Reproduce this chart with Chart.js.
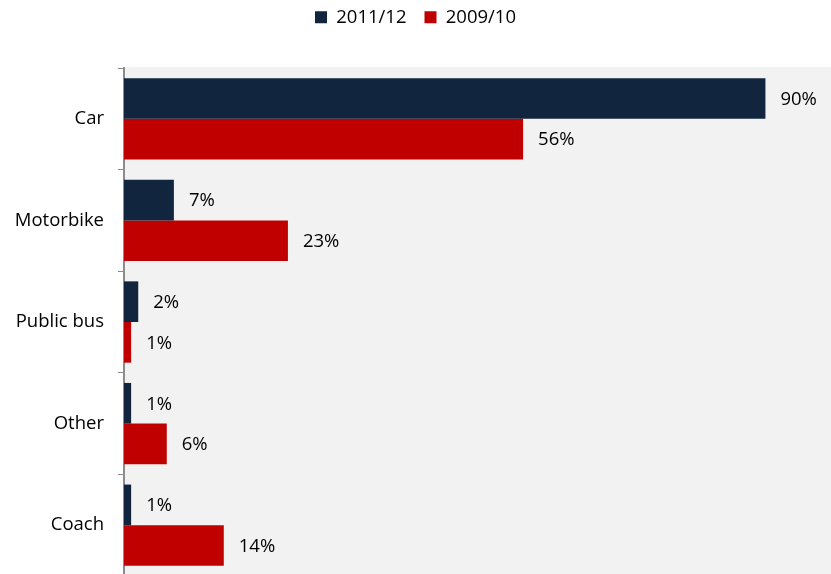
<!DOCTYPE html>
<html lang="en">
<head>
    <meta charset="UTF-8">
    <title>Mode of transport</title>
    <script src="https://cdn.jsdelivr.net/npm/chart.js"></script>
    <style>
        body {
            margin: 0;
            padding: 0;
            background: #fff;
            overflow: hidden;
        }
        #wrap {
            width: 831px;
            height: 576px;
        }
    </style>
</head>
<body>
    <div id="wrap"><canvas id="transportChart"></canvas></div>

    <script>
        const categories = ['Car', 'Motorbike', 'Public bus', 'Other', 'Coach'];
        const seriesNames = ['2011/12', '2009/10'];
        const values2011 = [90, 7, 2, 1, 1];
        const values2009 = [56, 23, 1, 6, 14];

        const fontFamily = '"Open Sans", "Noto Sans", sans-serif';
        const fontSize = 18.5;
        const plotTop = 68;

        // grey plot background behind the bars
        const plotBackground = {
            id: 'plotBackground',
            beforeDraw(chart) {
                const { ctx, chartArea } = chart;
                ctx.save();
                ctx.fillStyle = '#f2f2f2';
                ctx.fillRect(chartArea.left, chartArea.top - 1, chartArea.right - chartArea.left, chartArea.bottom - chartArea.top + 1);
                ctx.restore();
            }
        };

        // leave a fixed gap between the legend and the plot
        const legendGap = {
            id: 'legendGap',
            beforeInit(chart) {
                const fit = chart.legend.fit;
                chart.legend.fit = function () {
                    fit.call(this);
                    this.height = plotTop - chart.options.layout.padding.top;
                };
            }
        };

        // percentage labels to the right of each bar
        const valueLabels = {
            id: 'valueLabels',
            afterDatasetsDraw(chart) {
                const ctx = chart.ctx;
                ctx.save();
                ctx.font = fontSize + 'px ' + fontFamily;
                ctx.fillStyle = '#000';
                ctx.textBaseline = 'middle';
                ctx.textAlign = 'left';
                chart.data.datasets.forEach((ds, i) => {
                    chart.getDatasetMeta(i).data.forEach((bar, j) => {
                        ctx.fillText(ds.data[j] + '%', bar.x + 15, bar.y + 1);
                    });
                });
                ctx.restore();
            }
        };

        new Chart(document.getElementById('transportChart'), {
            type: 'bar',
            data: {
                labels: categories,
                datasets: [
                    {
                        label: seriesNames[0],
                        data: values2011,
                        backgroundColor: '#12253f',
                        categoryPercentage: 0.8,
                        barPercentage: 1.0
                    },
                    {
                        label: seriesNames[1],
                        data: values2009,
                        backgroundColor: '#c00000',
                        categoryPercentage: 0.8,
                        barPercentage: 1.0
                    }
                ]
            },
            options: {
                indexAxis: 'y',
                responsive: true,
                maintainAspectRatio: false,
                animation: false,
                layout: {
                    padding: { top: -10, left: 0, right: 0, bottom: 0 }
                },
                plugins: {
                    legend: {
                        position: 'top',
                        labels: {
                            font: { family: fontFamily, size: fontSize },
                            color: '#000',
                            boxWidth: 12,
                            boxHeight: 12,
                            padding: 18
                        }
                    },
                    tooltip: { enabled: false }
                },
                scales: {
                    x: {
                        display: false,
                        min: 0,
                        max: 99.2
                    },
                    y: {
                        afterFit(scale) {
                            scale.width = 124;
                            // the category labels sit inside their bands, no extra room needed
                            scale.paddingTop = 0;
                            scale.paddingBottom = 0;
                        },
                        grid: {
                            offset: true,
                            drawOnChartArea: false,
                            tickLength: 6,
                            color: '#8c8c8c'
                        },
                        border: { color: '#8c8c8c', width: 2 },
                        ticks: {
                            font: { family: fontFamily, size: fontSize },
                            color: '#000',
                            padding: 14
                        }
                    }
                }
            },
            plugins: [legendGap, plotBackground, valueLabels]
        });
    </script>
</body>
</html>
